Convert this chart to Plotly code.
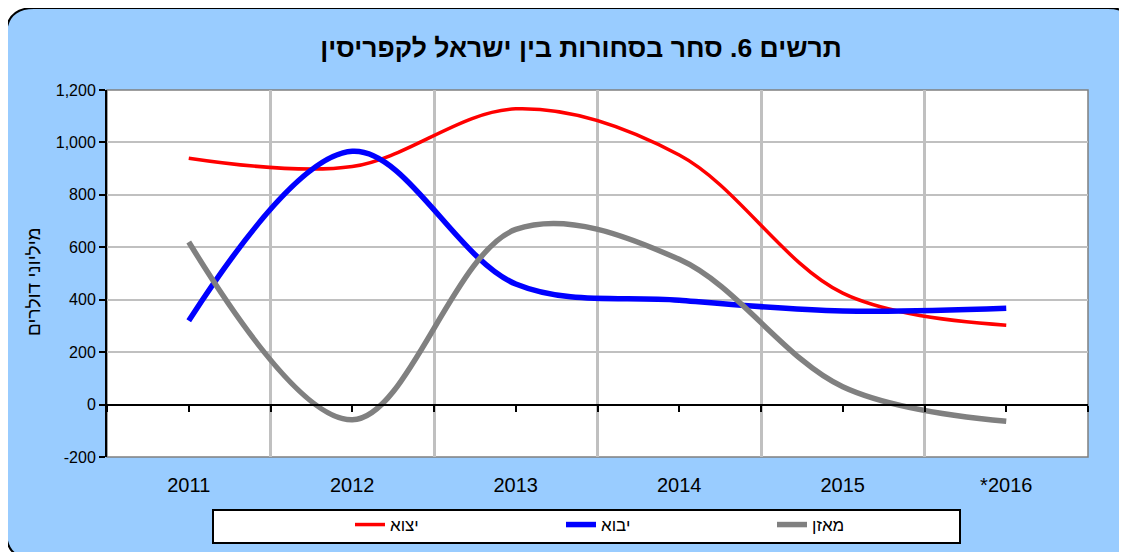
import plotly.graph_objects as go

# נתונים - מיליוני דולרים
years = ["2011", "2012", "2013", "2014", "2015", "*2016"]
export_vals = [940, 908, 1128, 952, 425, 303]
import_vals = [320, 966, 460, 398, 357, 367]
balance_vals = [620, -58, 668, 554, 68, -64]

y_ticks = [-200, 0, 200, 400, 600, 800, 1000, 1200]
y_ticktext = ["-200", "0", "200", "400", "600", "800", "1,000", "1,200"]

# הדף מוסיף שוליים של 8 פיקסלים, לכן מקזזים
OFF = 8
W, H = 1127 - OFF, 552 - OFF
PLOT_L, PLOT_R, PLOT_T, PLOT_B = 107, 1088, 90, 457   # בפיקסלים של המסך
ML, MR = PLOT_L - OFF, W - (PLOT_R - OFF)
MT, MB = PLOT_T - OFF, H - (PLOT_B - OFF)
PW, PH = PLOT_R - PLOT_L, PLOT_B - PLOT_T
FONT = "Liberation Sans, Arial, sans-serif"


def px_x(p):
    return (p - PLOT_L) / PW


def px_y(p):
    return (PLOT_B - p) / PH


def rounded_rect(x0, y0, x1, y1, r):
    X0, X1 = px_x(x0), px_x(x1)
    Y0, Y1 = px_y(y0), px_y(y1)
    rx, ry = r / PW, r / PH
    return (f"M{X0 + rx},{Y0} L{X1 - rx},{Y0} Q{X1},{Y0} {X1},{Y0 - ry} "
            f"L{X1},{Y1 + ry} Q{X1},{Y1} {X1 - rx},{Y1} "
            f"L{X0 + rx},{Y1} Q{X0},{Y1} {X0},{Y1 + ry} "
            f"L{X0},{Y0 - ry} Q{X0},{Y0} {X0 + rx},{Y0} Z")


xs = list(range(len(years)))

fig = go.Figure()

fig.add_trace(go.Scatter(x=xs, y=export_vals, name="יצוא", mode="lines",
                         line=dict(color="#FF0000", width=3.5, shape="spline", smoothing=1)))
fig.add_trace(go.Scatter(x=xs, y=import_vals, name="יבוא", mode="lines",
                         line=dict(color="#0000FF", width=5.5, shape="spline", smoothing=1)))
fig.add_trace(go.Scatter(x=xs, y=balance_vals, name="מאזן", mode="lines",
                         line=dict(color="#808080", width=5.5, shape="spline", smoothing=1)))
# ציר x משני על קו האפס (שנתות בלבד)
fig.add_trace(go.Scatter(x=[xs[0]], y=[0], xaxis="x2", showlegend=False,
                         mode="markers", marker=dict(opacity=0), hoverinfo="skip"))

fig.update_layout(
    width=W, height=H,
    margin=dict(l=ML, r=MR, t=MT, b=MB, autoexpand=False),
    paper_bgcolor="white",
    plot_bgcolor="white",
    font=dict(family=FONT, color="black"),
    title=dict(text="<b>תרשים 6. סחר בסחורות בין ישראל לקפריסין</b>",
               x=px_x(581) * PW / W + ML / W, xanchor="center",
               y=1 - (48 - OFF) / H, yanchor="middle",
               font=dict(size=26.5, family=FONT)),
    xaxis=dict(range=[-0.5, 5.5], tickvals=xs, ticktext=years,
               showgrid=False, zeroline=False, showline=False, ticks="",
               ticklabelstandoff=14, tickfont=dict(size=20),
               minor=dict(tick0=0.5, dtick=1, showgrid=True,
                          gridcolor="#C0C0C0", gridwidth=3)),
    xaxis2=dict(range=[-0.5, 5.5], overlaying="x", anchor="free",
                position=200 / 1400, side="bottom",
                tickvals=[i / 2 for i in range(-1, 12)],
                ticks="outside", ticklen=6, tickwidth=1.5, tickcolor="black",
                showticklabels=False, showgrid=False, zeroline=False,
                showline=True, linecolor="black", linewidth=2),
    yaxis=dict(range=[-200, 1200], tickvals=y_ticks, ticktext=y_ticktext,
               showgrid=True, gridcolor="#C0C0C0", gridwidth=2,
               zeroline=False, showline=True, linecolor="black", linewidth=2,
               ticks="outside", ticklen=6, tickwidth=1.5, tickcolor="black",
               tickfont=dict(size=16)),
    showlegend=True,
    legend=dict(orientation="h", x=px_x(350), y=px_y(525), xanchor="left", yanchor="middle",
                bgcolor="rgba(0,0,0,0)", borderwidth=0,
                entrywidth=166, entrywidthmode="pixels",
                font=dict(size=17, family=FONT), traceorder="normal"),
    annotations=[
        dict(text="מיליוני דולרים", xref="paper", yref="paper",
             x=px_x(33), y=px_y(282), xanchor="center", yanchor="middle",
             textangle=-90, showarrow=False, font=dict(size=19, family=FONT)),
    ],
    shapes=[
        dict(type="path", xref="paper", yref="paper", layer="below",
             path=rounded_rect(6, 8, 1136, 559, 28),
             fillcolor="#99CCFF", line=dict(color="black", width=2)),
        dict(type="rect", xref="x domain", yref="y domain", layer="below",
             x0=0, x1=1, y0=0, y1=1, fillcolor="white",
             line=dict(color="#808080", width=1.5)),
        dict(type="rect", xref="paper", yref="paper", layer="below",
             x0=px_x(213), x1=px_x(960), y0=px_y(510), y1=px_y(543),
             fillcolor="white", line=dict(color="black", width=2)),
    ],
)

fig.write_html("out.html")
